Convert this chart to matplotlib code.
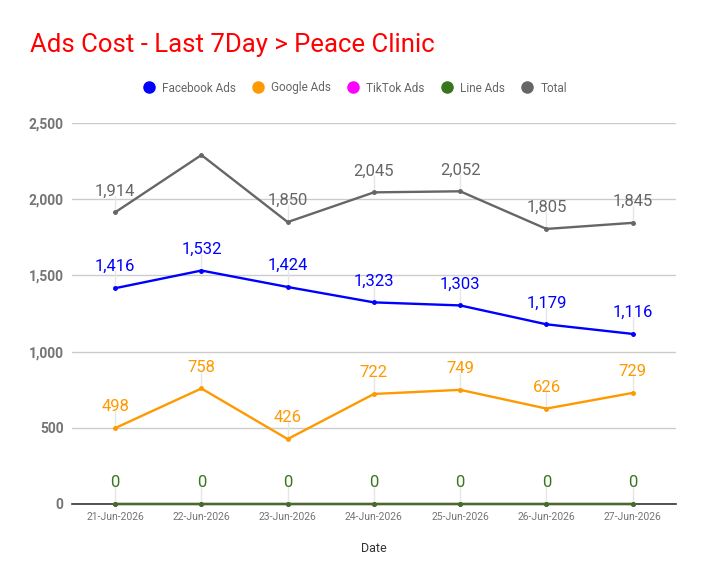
import matplotlib
matplotlib.use("Agg")
import matplotlib.pyplot as plt

dates = ["21-Jun-2026", "22-Jun-2026", "23-Jun-2026", "24-Jun-2026",
         "25-Jun-2026", "26-Jun-2026", "27-Jun-2026"]
facebook = [1416, 1532, 1424, 1323, 1303, 1179, 1116]
google = [498, 758, 426, 722, 749, 626, 729]
tiktok = [0, 0, 0, 0, 0, 0, 0]
line_ads = [0, 0, 0, 0, 0, 0, 0]
total = [1914, 2290, 1850, 2045, 2052, 1805, 1845]
# the 22-Jun total label is hidden in the original
total_show = [True, False, True, True, True, True, True]

plt.rcParams["font.family"] = ["Roboto", "DejaVu Sans"]

fig = plt.figure(figsize=(7.04, 5.85), dpi=100)
ax = fig.add_axes([0.1023, 0.1385, 0.8577, 0.6512])

series = [
    ("Facebook Ads", facebook, "#0000ff", None),
    ("Google Ads", google, "#ff9900", None),
    ("TikTok Ads", tiktok, "#ff00ff", None),
    ("Line Ads", line_ads, "#38761d", None),
    ("Total", total, "#666666", total_show),
]

x = list(range(len(dates)))
for name, vals, color, show in series:
    ax.plot(x, vals, color=color, lw=1.7, marker="o", markersize=2.5, zorder=3,
            label=name, clip_on=False)

# data labels (TikTok shares the zero line with Line Ads, only Line shows)
for name, vals, color, show in series:
    if name == "TikTok Ads":
        continue
    for i, v in enumerate(vals):
        if show is not None and not show[i]:
            continue
        ax.plot([i, i], [v, v + 110], color="#e6e6e6", lw=1, zorder=1)
        ax.annotate(f"{v:,}", (i, v), xytext=(0, 10), textcoords="offset points",
                    ha="center", va="bottom", fontsize=12, color=color)

ax.set_xlim(-0.5, 6.5)
ax.set_ylim(0, 2500)
ax.set_yticks([0, 500, 1000, 1500, 2000, 2500])
ax.set_yticklabels([f"{t:,}" for t in [0, 500, 1000, 1500, 2000, 2500]],
                   fontsize=10, fontweight="bold", color="#757575")
ax.set_xticks(x)
ax.set_xticklabels(dates, fontsize=7.5, color="#757575")
ax.tick_params(axis="both", length=0, pad=6)
ax.grid(axis="y", color="#cccccc", lw=1)
ax.set_axisbelow(True)
for s in ["top", "right", "left"]:
    ax.spines[s].set_visible(False)
ax.spines["bottom"].set_color("#333333")
ax.spines["bottom"].set_linewidth(1.2)
ax.spines["bottom"].set_zorder(2)
ax.set_xlabel("Date", fontsize=9, color="#333333", labelpad=14)

handles = [plt.Line2D([], [], marker="o", ls="", color=c, markersize=8)
           for _, _, c, _ in series]
fig.legend(handles, [n for n, _, _, _ in series], loc="center",
           bbox_to_anchor=(0.5, 1 - 88 / 585), ncol=5, frameon=False,
           fontsize=8.5, labelcolor="#666666", handletextpad=0.1,
           columnspacing=0.9)

fig.text(30 / 704, 1 - 45 / 585, "Ads Cost - Last 7Day > Peace Clinic",
         fontsize=18.5, color="#ff0000", va="center", ha="left")

fig.savefig("out.png", dpi=100)
